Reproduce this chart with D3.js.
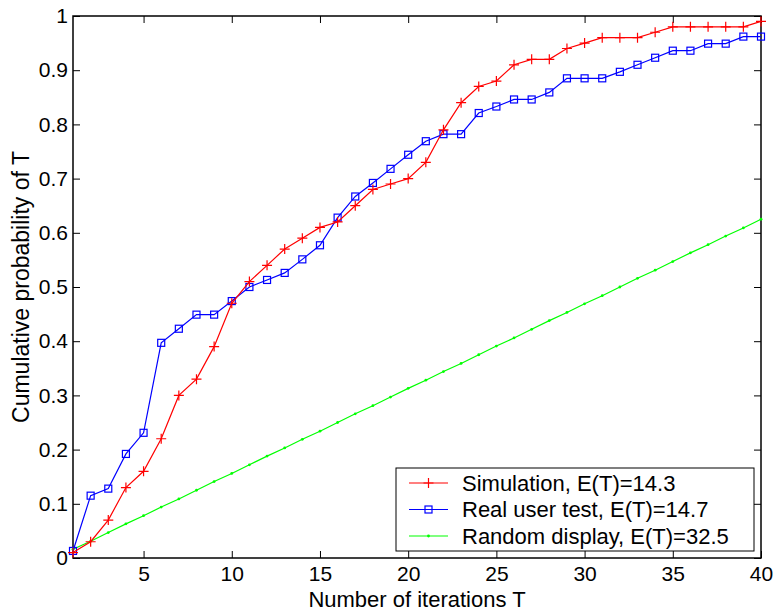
<!DOCTYPE html>
<html>
<head>
<meta charset="utf-8">
<script src="https://cdn.jsdelivr.net/npm/d3@7"></script>
<style>
  body { margin: 0; background: #fff; }
  svg { font-family: "Liberation Sans", Arial, sans-serif; }
</style>
</head>
<body>
<div id="chart"></div>
<script>
var width = 776,
    height = 613,
    margin = {top: 16, right: 15, bottom: 55, left: 73};

// iterations T = 1..40
var iterations = [1, 2, 3, 4, 5, 6, 7, 8, 9, 10, 11, 12, 13, 14, 15, 16, 17, 18, 19, 20,
    21, 22, 23, 24, 25, 26, 27, 28, 29, 30, 31, 32, 33, 34, 35, 36, 37, 38, 39, 40];

var simulation = [0.01, 0.03, 0.07, 0.13, 0.16, 0.22, 0.30, 0.33, 0.39, 0.47,
    0.51, 0.54, 0.57, 0.59, 0.61, 0.62, 0.65, 0.68, 0.69, 0.70,
    0.73, 0.79, 0.84, 0.87, 0.88, 0.91, 0.92, 0.92, 0.94, 0.95,
    0.96, 0.96, 0.96, 0.97, 0.98, 0.98, 0.98, 0.98, 0.98, 0.99];

var realUser = [0.013, 0.115, 0.128, 0.192, 0.231, 0.397, 0.423, 0.449, 0.449, 0.474,
    0.500, 0.513, 0.526, 0.551, 0.577, 0.628, 0.667, 0.692, 0.718, 0.744,
    0.769, 0.782, 0.782, 0.821, 0.833, 0.846, 0.846, 0.859, 0.885, 0.885,
    0.885, 0.897, 0.910, 0.923, 0.936, 0.936, 0.949, 0.949, 0.962, 0.962];

var randomDisplay = [0.016, 0.031, 0.047, 0.063, 0.078, 0.094, 0.109, 0.125, 0.141, 0.156,
    0.172, 0.188, 0.203, 0.219, 0.234, 0.250, 0.266, 0.281, 0.297, 0.313,
    0.328, 0.344, 0.359, 0.375, 0.391, 0.406, 0.422, 0.438, 0.453, 0.469,
    0.484, 0.500, 0.516, 0.531, 0.547, 0.563, 0.578, 0.594, 0.609, 0.625];

var xTicks = [5, 10, 15, 20, 25, 30, 35, 40];
var yTicks = [0, 0.1, 0.2, 0.3, 0.4, 0.5, 0.6, 0.7, 0.8, 0.9, 1];

var legendLabels = ["Simulation, E(T)=14.3", "Real user test, E(T)=14.7", "Random display, E(T)=32.5"];

var w = width - margin.left - margin.right,
    h = height - margin.top - margin.bottom;

var x = d3.scaleLinear().domain([1, 40]).range([0, w]);
var y = d3.scaleLinear().domain([0, 1]).range([h, 0]);

var svg = d3.select("#chart").append("svg")
    .attr("width", width)
    .attr("height", height)
  .append("g")
    .attr("transform", "translate(" + margin.left + "," + margin.top + ")");

var tickLen = 7;

// axes with inward ticks, on all four sides
function styleAxis(g) {
    g.select(".domain").remove();
    g.selectAll(".tick line").attr("stroke", "#000").attr("stroke-width", 1);
    g.selectAll(".tick text").attr("fill", "#000").style("font-size", "21px");
}

svg.append("g")
    .attr("transform", "translate(0," + h + ")")
    .call(d3.axisBottom(x).tickValues(xTicks).tickSize(-tickLen).tickPadding(10).tickFormat(d3.format("d")))
    .call(styleAxis)
    .selectAll(".tick text").attr("dy", "0.71em").attr("y", 8);

svg.append("g")
    .call(d3.axisTop(x).tickValues(xTicks).tickSize(-tickLen).tickFormat(""))
    .call(styleAxis);

svg.append("g")
    .call(d3.axisLeft(y).tickValues(yTicks).tickSize(-tickLen).tickPadding(5).tickFormat(function(d) { return d === 0 || d === 1 ? d3.format("d")(d) : d3.format(".1f")(d); }))
    .call(styleAxis);

svg.append("g")
    .attr("transform", "translate(" + w + ",0)")
    .call(d3.axisRight(y).tickValues(yTicks).tickSize(-tickLen).tickFormat(""))
    .call(styleAxis);

svg.append("rect")
    .attr("width", w)
    .attr("height", h)
    .attr("fill", "none")
    .attr("stroke", "#000")
    .attr("stroke-width", 1.5);

var series = [
    {name: legendLabels[0], values: simulation, color: "#ff0000", marker: "plus"},
    {name: legendLabels[1], values: realUser, color: "#0000ff", marker: "square"},
    {name: legendLabels[2], values: randomDisplay, color: "#00ff00", marker: "dot"}
];

var line = d3.line()
    .x(function(d) { return x(d[0]); })
    .y(function(d) { return y(d[1]); });

function drawMarker(g, type, color) {
    if (type === "plus") {
        g.append("path").attr("d", "M-5,0H5M0,-5V5")
            .attr("stroke", color).attr("stroke-width", 1.2).attr("fill", "none");
    } else if (type === "square") {
        g.append("rect").attr("x", -3.5).attr("y", -3.5).attr("width", 7).attr("height", 7)
            .attr("stroke", color).attr("stroke-width", 1.2).attr("fill", "none");
    } else {
        g.append("circle").attr("r", 1.4).attr("fill", color);
    }
}

// draw random first, then real user, then simulation on top
[2, 1, 0].forEach(function(k) {
    var s = series[k];
    var pts = iterations.map(function(t, i) { return [t, s.values[i]]; });
    svg.append("path")
        .datum(pts)
        .attr("d", line)
        .attr("fill", "none")
        .attr("stroke", s.color)
        .attr("stroke-width", 1.2);
    svg.append("g").selectAll("g")
        .data(pts)
        .enter().append("g")
        .attr("transform", function(d) { return "translate(" + x(d[0]) + "," + y(d[1]) + ")"; })
        .each(function() { drawMarker(d3.select(this), s.marker, s.color); });
});

// legend
var legend = svg.append("g")
    .attr("transform", "translate(" + (396 - margin.left) + "," + (468 - margin.top) + ")");

legend.append("rect")
    .attr("width", 358)
    .attr("height", 83)
    .attr("fill", "#fff")
    .attr("stroke", "#000")
    .attr("stroke-width", 1);

series.forEach(function(s, i) {
    var row = legend.append("g").attr("transform", "translate(0," + (15 + i * 26.5) + ")");
    row.append("line")
        .attr("x1", 13).attr("x2", 52)
        .attr("stroke", s.color).attr("stroke-width", 1.2);
    drawMarker(row.append("g").attr("transform", "translate(32.5,0)"), s.marker, s.color);
    row.append("text")
        .attr("x", 66)
        .attr("dy", "0.35em")
        .style("font-size", "22px")
        .text(s.name);
});

// axis titles
svg.append("text")
    .attr("x", w / 2)
    .attr("y", h + 49)
    .attr("text-anchor", "middle")
    .style("font-size", "22px")
    .text("Number of iterations T");

svg.append("text")
    .attr("transform", "translate(" + (29 - margin.left) + "," + (h / 2) + ") rotate(-90)")
    .attr("text-anchor", "middle")
    .style("font-size", "23px")
    .text("Cumulative probability of T");
</script>
</body>
</html>
